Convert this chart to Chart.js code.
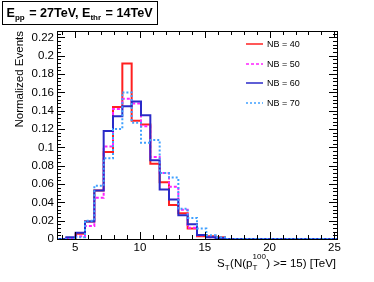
<!DOCTYPE html>
<html>
<head>
<meta charset="utf-8">
<script src="https://cdn.jsdelivr.net/npm/chart.js@4.4.0/dist/chart.umd.min.js"></script>
<style>
  html, body { margin: 0; padding: 0; background: #fff; }
  #wrap { width: 374px; height: 282px; position: relative; }
</style>
</head>
<body>
<div id="wrap"><canvas id="myChart" width="374" height="282"></canvas></div>
<script>
// bin edges of the histograms (30 bins)
const binEdges = [3.6, 4.32, 5.04, 5.76, 6.48, 7.2, 7.92, 8.64, 9.36, 10.08, 10.8, 11.52, 12.24, 12.96, 13.68,
    14.4, 15.12, 15.84, 16.56, 17.28, 18, 18.72, 19.44, 20.16, 20.88, 21.6, 22.32, 23.04, 23.76, 24.48, 25.2];

const nb40 = [0, 0.001, 0.0057, 0.019, 0.053, 0.095, 0.144, 0.1915, 0.129, 0.125, 0.082, 0.062, 0.037, 0.028, 0.0114,
    0.003, 0.003, 0.002, 0, 0, 0, 0, 0, 0, 0, 0, 0, 0, 0, 0];
const nb50 = [0, 0.001, 0.003, 0.0143, 0.045, 0.101, 0.142, 0.153, 0.148, 0.123, 0.0896, 0.072, 0.057, 0.032, 0.0124,
    0.004, 0.002, 0.001, 0, 0, 0, 0, 0, 0, 0, 0, 0, 0, 0, 0];
const nb60 = [0, 0.002, 0.0067, 0.019, 0.053, 0.118, 0.134, 0.145, 0.150, 0.135, 0.086, 0.054, 0.043, 0.026, 0.016,
    0.0045, 0.002, 0.001, 0, 0, 0, 0, 0, 0, 0, 0, 0, 0, 0, 0];
const nb70 = [0, 0, 0.002, 0.020, 0.058, 0.088, 0.120, 0.160, 0.127, 0.105, 0.108, 0.072, 0.067, 0.033, 0.023,
    0.0114, 0.004, 0.002, 0, 0, 0, 0, 0, 0, 0, 0, 0, 0, 0, 0];

const xTicks = [5, 10, 15, 20, 25];
const yTicks = [0, 0.02, 0.04, 0.06, 0.08, 0.1, 0.12, 0.14, 0.16, 0.18, 0.2, 0.22];
const legendLabels = ['NB = 40', 'NB = 50', 'NB = 60', 'NB = 70'];

const FONT = '"Liberation Sans", Arial, Helvetica, sans-serif';

// puntos de un histograma: borde inferior de cada bin + borde final
function histPoints(values) {
    const pts = values.map((v, i) => ({ x: binEdges[i], y: v }));
    pts.push({ x: binEdges[binEdges.length - 1], y: values[values.length - 1] });
    return pts;
}

const styles = [
    { color: '#ff2020', dash: [] },
    { color: '#ff22ff', dash: [3, 2] },
    { color: '#2a2ac8', dash: [] },
    { color: '#3fa0ff', dash: [2, 2] }
];

const series = [nb40, nb50, nb60, nb70];

const datasets = series.map((vals, i) => ({
    label: legendLabels[i],
    data: histPoints(vals),
    borderColor: styles[i].color,
    borderDash: styles[i].dash,
    borderWidth: 2,
    pointRadius: 0,
    fill: false,
    stepped: true,
    order: 3 - i
}));

// marcas de ejes estilo ROOT, titulo, leyenda
const rootDecor = {
    id: 'rootDecor',
    afterDraw(chart) {
        const ctx = chart.ctx;
        const a = chart.chartArea;
        const xs = chart.scales.x, ys = chart.scales.y;
        ctx.save();
        ctx.strokeStyle = '#000';
        ctx.lineWidth = 1;
        ctx.setLineDash([]);
        ctx.strokeRect(Math.round(a.left) + 0.5, Math.round(a.top) + 0.5,
            Math.round(a.right - a.left), Math.round(a.bottom - a.top));

        ctx.beginPath();
        // x ticks
        for (let v = 4; v <= 25; v++) {
            const px = Math.round(xs.getPixelForValue(v)) + 0.5;
            const len = v % 5 === 0 ? 7 : 4;
            ctx.moveTo(px, a.bottom); ctx.lineTo(px, a.bottom - len);
            ctx.moveTo(px, a.top); ctx.lineTo(px, a.top + len);
        }
        // y ticks
        for (let k = 0; k * 0.004 <= ys.max + 1e-9; k++) {
            const py = Math.round(ys.getPixelForValue(k * 0.004)) + 0.5;
            const len = k % 5 === 0 ? 8 : 4;
            ctx.moveTo(a.left, py); ctx.lineTo(a.left + len, py);
            ctx.moveTo(a.right, py); ctx.lineTo(a.right - len, py);
        }
        ctx.stroke();

        ctx.fillStyle = '#000';
        // y axis title
        ctx.save();
        ctx.translate(23, 31);
        ctx.rotate(-Math.PI / 2);
        ctx.font = '11.5px ' + FONT;
        ctx.textAlign = 'right';
        ctx.textBaseline = 'alphabetic';
        ctx.fillText('Normalized Events', 0, 0);
        ctx.restore();

        // x axis title with sub/superscripts, right aligned
        const big = '11.5px ' + FONT, small = '8px ' + FONT;
        const parts = [
            { t: 'S', f: big, dy: 0 },
            { t: 'T', f: small, dy: 3 },
            { t: '(N(p', f: big, dy: 0 },
            { t: 'T', f: small, dy: 3, sup: '100' },
            { t: ') >= 15) [TeV]', f: big, dy: 0 }
        ];
        let w = 0;
        parts.forEach(p => {
            ctx.font = p.f;
            let pw = ctx.measureText(p.t).width;
            if (p.sup) pw = Math.max(pw, ctx.measureText(p.sup).width);
            p.w = pw;
            w += pw + (p.f === small ? 0.5 : 0);
        });
        let x = 336 - w;
        const base = 267;
        ctx.textAlign = 'left';
        parts.forEach(p => {
            ctx.font = p.f;
            ctx.fillText(p.t, x, base + p.dy);
            if (p.sup) ctx.fillText(p.sup, x, base - 8);
            x += p.w + (p.f === small ? 0.5 : 0);
        });

        // title box
        ctx.strokeRect(2.5, 1.5, 155, 23);
        const tb = 'bold 12.6px ' + FONT, ts = 'bold 8px ' + FONT;
        const tparts = [
            { t: 'E', f: tb, dy: 0 }, { t: 'pp', f: ts, dy: 3 },
            { t: ' = 27TeV, E', f: tb, dy: 0 }, { t: 'thr', f: ts, dy: 3 },
            { t: ' = 14TeV', f: tb, dy: 0 }
        ];
        x = 6.5;
        tparts.forEach(p => {
            ctx.font = p.f;
            ctx.fillText(p.t, x, 17 + p.dy);
            x += ctx.measureText(p.t).width + (p.f === ts ? 1 : 0);
        });

        // legend
        const ly = [44, 64, 83, 103];
        chart.data.datasets.forEach((ds, i) => {
            ctx.beginPath();
            ctx.strokeStyle = ds.borderColor;
            ctx.lineWidth = 1.5;
            ctx.setLineDash(ds.borderDash);
            ctx.moveTo(246, ly[i]); ctx.lineTo(263, ly[i]);
            ctx.stroke();
            ctx.setLineDash([]);
            ctx.fillStyle = '#000';
            ctx.font = '9px ' + FONT;
            ctx.textBaseline = 'middle';
            ctx.fillText(ds.label, 267, ly[i] + 0.5);
            ctx.textBaseline = 'alphabetic';
        });
        ctx.restore();
    }
};

const ctx = document.getElementById('myChart').getContext('2d');
const myChart = new Chart(ctx, {
    type: 'line',
    data: { datasets: datasets },
    options: {
        responsive: false,
        animation: false,
        events: [],
        layout: { padding: { left: 0, top: 31, right: 37, bottom: 0 } },
        plugins: { legend: { display: false }, tooltip: { enabled: false } },
        scales: {
            x: {
                type: 'linear',
                min: 3.6,
                max: 25.2,
                afterBuildTicks: s => { s.ticks = xTicks.map(v => ({ value: v })); },
                afterFit: s => { s.height = 43; },
                grid: { display: false, drawTicks: false },
                border: { display: false },
                ticks: { color: '#000', font: { family: FONT, size: 11.5 }, padding: 2, maxRotation: 0 }
            },
            y: {
                min: 0,
                max: 0.227,
                afterBuildTicks: s => { s.ticks = yTicks.map(v => ({ value: v })); },
                afterFit: s => { s.width = 57; },
                grid: { display: false, drawTicks: false },
                border: { display: false },
                ticks: {
                    color: '#000',
                    font: { family: FONT, size: 11.5 },
                    padding: 3,
                    callback: v => String(+v.toFixed(2))
                }
            }
        }
    },
    plugins: [rootDecor]
});
</script>
</body>
</html>
